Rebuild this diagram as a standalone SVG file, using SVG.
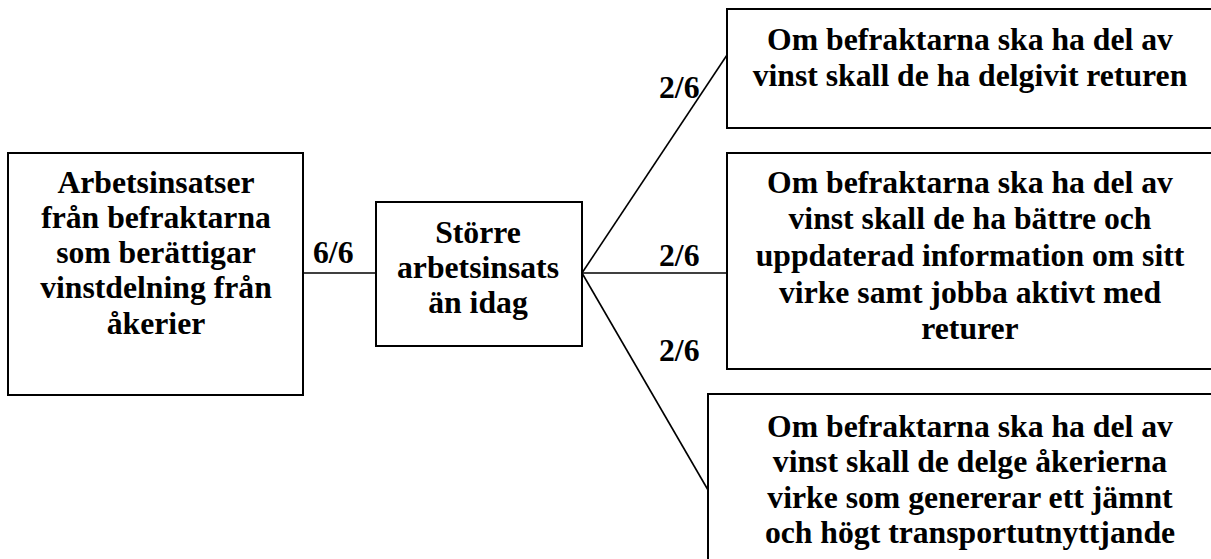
<svg xmlns="http://www.w3.org/2000/svg" width="1211" height="559" viewBox="0 0 1211 559">
  <style>
    .box { fill: #ffffff; stroke: #000000; stroke-width: 2; }
    .link { stroke: #000000; stroke-width: 1.6; fill: none; }
    text { font-family: "Liberation Serif", "Times New Roman", serif; font-weight: bold; font-size: 31.7px; fill: #000000; }
    .c { text-anchor: middle; }
  </style>
  <rect width="1211" height="559" fill="#ffffff"/>

  <g id="connectors">
    <line class="link" x1="303" y1="273" x2="376" y2="273"/>
    <line class="link" x1="582" y1="273" x2="727" y2="55"/>
    <line class="link" x1="582" y1="273" x2="727" y2="273"/>
    <line class="link" x1="582" y1="273" x2="708" y2="490"/>
    <text x="313" y="263">6/6</text>
    <text x="659" y="98">2/6</text>
    <text x="659" y="266">2/6</text>
    <text x="659" y="361">2/6</text>
  </g>

  <g id="node-arbetsinsatser">
    <rect class="box" x="8" y="153" width="295" height="242"/>
    <text class="c" x="156" y="193">Arbetsinsatser</text>
    <text class="c" x="156" y="228">från befraktarna</text>
    <text class="c" x="156" y="263">som berättigar</text>
    <text class="c" x="156" y="298">vinstdelning från</text>
    <text class="c" x="156" y="334">åkerier</text>
  </g>

  <g id="node-storre">
    <rect class="box" x="376" y="202" width="206" height="144"/>
    <text class="c" x="478" y="243">Större</text>
    <text class="c" x="478" y="278">arbetsinsats</text>
    <text class="c" x="478" y="313">än idag</text>
  </g>

  <g id="node-returen">
    <rect class="box" x="727" y="9" width="490" height="119"/>
    <text class="c" x="970" y="50">Om befraktarna ska ha del av</text>
    <text class="c" x="970" y="86">vinst skall de ha delgivit returen</text>
  </g>

  <g id="node-information">
    <rect class="box" x="727" y="153" width="490" height="216"/>
    <text class="c" x="970" y="193">Om befraktarna ska ha del av</text>
    <text class="c" x="970" y="229">vinst skall de ha bättre och</text>
    <text class="c" x="970" y="266">uppdaterad information om sitt</text>
    <text class="c" x="970" y="303">virke samt jobba aktivt med</text>
    <text class="c" x="970" y="339">returer</text>
  </g>

  <g id="node-transport">
    <rect class="box" x="708" y="394" width="524" height="200"/>
    <text class="c" x="970" y="437">Om befraktarna ska ha del av</text>
    <text class="c" x="970" y="472">vinst skall de delge åkerierna</text>
    <text class="c" x="970" y="508">virke som genererar ett jämnt</text>
    <text class="c" x="970" y="543">och högt transportutnyttjande</text>
  </g>
</svg>
